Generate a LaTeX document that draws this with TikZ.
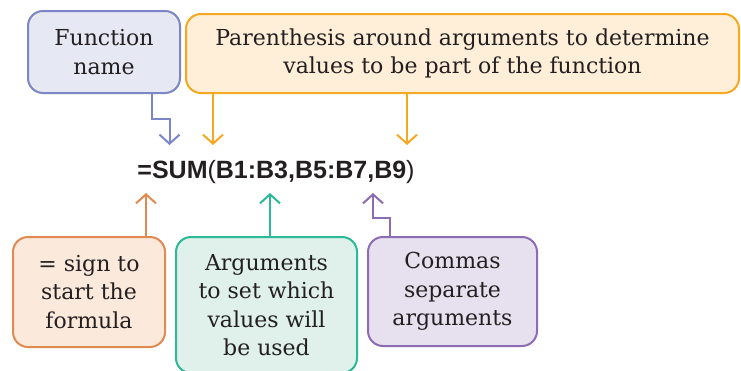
\documentclass[tikz,border=0pt]{standalone}
\usepackage{fontspec}
\setmainfont{DejaVu Serif}
\newfontfamily\formulafont{Liberation Sans}
\usetikzlibrary{arrows.meta}

\definecolor{inkgray}{HTML}{231F20}
\definecolor{fnfill}{HTML}{E6E8F4}\definecolor{fnline}{HTML}{7A86C6}
\definecolor{parfill}{HTML}{FFEFD8}\definecolor{parline}{HTML}{F7A823}
\definecolor{eqfill}{HTML}{FBE9DC}\definecolor{eqline}{HTML}{E08A50}
\definecolor{argfill}{HTML}{DFF1EA}\definecolor{argline}{HTML}{2BB996}
\definecolor{comfill}{HTML}{E7E0EF}\definecolor{comline}{HTML}{8E6BB5}

\tikzset{
  callout/.style={draw=#1line, fill=#1fill, line width=2pt, rounded corners=15pt,
    align=center, text=inkgray, inner sep=0pt,
    font=\fontsize{22}{28.5}\selectfont},
  pointer/.style={draw=#1line, line width=2pt,
    -{Straight Barb[length=9pt,width=20pt,line width=2pt]}},
}

\begin{document}
\begin{tikzpicture}[x=1pt,y=-1pt]
  \useasboundingbox (0,0) rectangle (741,370);

  % callout boxes
  \node[callout=fn, minimum width=152pt, minimum height=82pt] (fn) at (104,52)
    {Function\\name};
  \node[callout=par, minimum width=553pt, minimum height=79pt] (par) at (462.5,53.5)
    {Parenthesis around arguments to determine\\values to be part of the function};
  \node[callout=eq, minimum width=152pt, minimum height=110pt] (eq) at (89,292)
    {= sign to\\start the\\formula};
  \node[callout=arg, minimum width=181pt, minimum height=136pt] (arg) at (266.5,305)
    {Arguments\\to set which\\values will\\be used};
  \node[callout=com, minimum width=169pt, minimum height=109pt] (com) at (452.5,291.5)
    {Commas\\separate\\arguments};

  % the formula
  \node[text=inkgray, anchor=base, inner sep=0pt, font=\formulafont\fontsize{25}{30}\selectfont]
    (formula) at (276,178)
    {\textbf{=SUM}(\textbf{B1:B3,B5:B7,B9})};

  % arrow tips and bends
  \coordinate (fnOut) at (152,93);
  \coordinate (fnBend) at (152,119);
  \coordinate (fnTip) at (169.5,145);
  \coordinate (parTipA) at (213,145);
  \coordinate (parTipB) at (407,145);
  \coordinate (eqTip) at (146,193);
  \coordinate (argTip) at (270,193);
  \coordinate (comOut) at (390,237);
  \coordinate (comBend) at (390,218);
  \coordinate (comTip) at (373,193);

  % pointers from the callouts to the formula
  \draw[pointer=fn] (fnOut) -- (fnBend) -| (fnTip);
  \draw[pointer=par] (par.south -| parTipA) -- (parTipA);
  \draw[pointer=par] (par.south -| parTipB) -- (parTipB);
  \draw[pointer=eq] (eq.north -| eqTip) -- (eqTip);
  \draw[pointer=arg] (arg.north -| argTip) -- (argTip);
  \draw[pointer=com] (comOut) -- (comBend) -| (comTip);
\end{tikzpicture}
\end{document}
